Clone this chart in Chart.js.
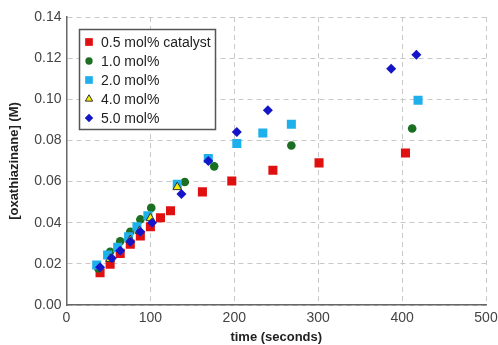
<!DOCTYPE html>
<html>
<head>
<meta charset="utf-8">
<script src="https://cdn.jsdelivr.net/npm/chart.js@4"></script>
<style>
  html, body { margin: 0; padding: 0; background: #fff; }
  #wrap { width: 498px; height: 345px; position: relative; }
</style>
</head>
<body>
<div id="wrap"><canvas id="kinetics"></canvas></div>
<script>
// Data
const seriesLabels = ['0.5 mol% catalyst', '1.0 mol%', '2.0 mol%', '4.0 mol%', '5.0 mol%'];

const cat05X = [40, 52, 64, 76, 88, 100, 112, 124, 162, 197, 246, 301, 404];
const cat05Y = [0.0157, 0.0198, 0.0251, 0.0295, 0.0335, 0.0380, 0.0424, 0.0458, 0.0550, 0.0603, 0.0655, 0.0691, 0.0739];

const cat10X = [38, 52, 64, 76, 88, 101, 141, 176, 268, 412];
const cat10Y = [0.0178, 0.0259, 0.0310, 0.0356, 0.0416, 0.0472, 0.0598, 0.0674, 0.0775, 0.0858];

const cat20X = [36, 49, 61, 74, 84, 97, 132, 169, 203, 234, 268, 419];
const cat20Y = [0.0194, 0.0243, 0.0280, 0.0332, 0.0380, 0.0434, 0.0587, 0.0712, 0.0785, 0.0836, 0.0879, 0.0995];

const cat40X = [52, 76, 87, 100, 132];
const cat40Y = [0.0224, 0.0316, 0.0360, 0.0422, 0.0573];

const cat50X = [40, 54, 64, 76, 88, 102, 137, 169, 203, 240, 387, 417];
const cat50Y = [0.0183, 0.0227, 0.0264, 0.0307, 0.0356, 0.0400, 0.0539, 0.0700, 0.0841, 0.0947, 0.1149, 0.1217];

const xTicks = [0, 100, 200, 300, 400, 500];
const yTicks = [0.00, 0.02, 0.04, 0.06, 0.08, 0.10, 0.12, 0.14];

function toPoints(xs, ys) {
    return xs.map((x, i) => ({ x: x, y: ys[i] }));
}

// Legend drawn inside the plot area, with a framed box
const boxLegend = {
    id: 'boxLegend',
    afterDatasetsDraw(chart) {
        const ctx = chart.ctx;
        const left = 79.5, top = 29.5, w = 136, h = 100;
        ctx.save();
        ctx.fillStyle = '#ffffff';
        ctx.fillRect(left, top, w, h);
        ctx.strokeStyle = '#555555';
        ctx.lineWidth = 1.5;
        ctx.strokeRect(left, top, w, h);

        ctx.font = '14px "Liberation Sans", Arial, sans-serif';
        ctx.textBaseline = 'middle';
        ctx.textAlign = 'left';
        chart.data.datasets.forEach((ds, i) => {
            const y = 42 + i * 19;
            ctx.fillStyle = ds.backgroundColor;
            ctx.strokeStyle = ds.borderColor;
            ctx.lineWidth = ds.borderWidth;
            Chart.helpers.drawPoint(ctx, {
                pointStyle: ds.pointStyle,
                radius: ds.pointRadius * 0.85,
                borderWidth: ds.borderWidth
            }, 89, y);
            ctx.fillStyle = '#222222';
            ctx.fillText(ds.label, 101, y + 1);
        });
        ctx.restore();
    }
};

const ctx = document.getElementById('kinetics');
new Chart(ctx, {
    type: 'scatter',
    data: {
        datasets: [
            { label: seriesLabels[0], data: toPoints(cat05X, cat05Y), pointStyle: 'rect', pointRadius: 6.4,
              backgroundColor: '#e01010', borderColor: '#e01010', borderWidth: 0, order: 5 },
            { label: seriesLabels[1], data: toPoints(cat10X, cat10Y), pointStyle: 'circle', pointRadius: 4.3,
              backgroundColor: '#1c6e22', borderColor: '#1c6e22', borderWidth: 0, order: 4 },
            { label: seriesLabels[2], data: toPoints(cat20X, cat20Y), pointStyle: 'rect', pointRadius: 6.4,
              backgroundColor: '#1eb0ea', borderColor: '#1eb0ea', borderWidth: 0, order: 3 },
            { label: seriesLabels[3], data: toPoints(cat40X, cat40Y), pointStyle: 'triangle', pointRadius: 5,
              backgroundColor: '#f4f000', borderColor: '#333333', borderWidth: 1, order: 2 },
            { label: seriesLabels[4], data: toPoints(cat50X, cat50Y), pointStyle: 'rectRot', pointRadius: 5,
              backgroundColor: '#1515c8', borderColor: '#1515c8', borderWidth: 0, order: 1 }
        ]
    },
    options: {
        responsive: true,
        maintainAspectRatio: false,
        animation: false,
        events: [],
        layout: { padding: { top: 17, right: 12, left: 0, bottom: 0 } },
        plugins: {
            legend: { display: false },
            tooltip: { enabled: false }
        },
        scales: {
            x: {
                type: 'linear',
                min: 0,
                max: 500,
                afterBuildTicks: (scale) => { scale.ticks = xTicks.map(v => ({ value: v })); },
                afterFit: (scale) => {
                    scale.height = 40;
                    scale.paddingLeft = 0;
                    scale.paddingRight = 0;
                },
                grid: { color: '#c8c8c8', lineWidth: 1, drawTicks: false },
                border: { display: true, color: '#666666', width: 1.5, dash: [5, 4] },
                ticks: {
                    padding: 5,
                    color: '#444444',
                    font: { family: '"Liberation Sans", Arial, sans-serif', size: 14 }
                },
                title: {
                    display: true,
                    text: 'time (seconds)',
                    color: '#222222',
                    padding: { top: 0, bottom: 0 },
                    font: { family: '"Liberation Sans", Arial, sans-serif', size: 13, weight: 'bold' }
                }
            },
            y: {
                type: 'linear',
                min: 0,
                max: 0.14,
                afterBuildTicks: (scale) => { scale.ticks = yTicks.map(v => ({ value: v })); },
                afterFit: (scale) => { scale.width = 66.5; },
                grid: { color: '#c8c8c8', lineWidth: 1, drawTicks: false },
                border: { display: true, color: '#666666', width: 1.5, dash: [5, 4] },
                ticks: {
                    padding: 5,
                    color: '#444444',
                    font: { family: '"Liberation Sans", Arial, sans-serif', size: 14 },
                    callback: (v) => Number(v).toFixed(2)
                },
                title: {
                    display: true,
                    text: '[oxathiazinane] (M)',
                    color: '#222222',
                    padding: { top: 7, bottom: 0 },
                    font: { family: '"Liberation Sans", Arial, sans-serif', size: 13, weight: 'bold' }
                }
            }
        }
    },
    plugins: [boxLegend]
});
</script>
</body>
</html>
